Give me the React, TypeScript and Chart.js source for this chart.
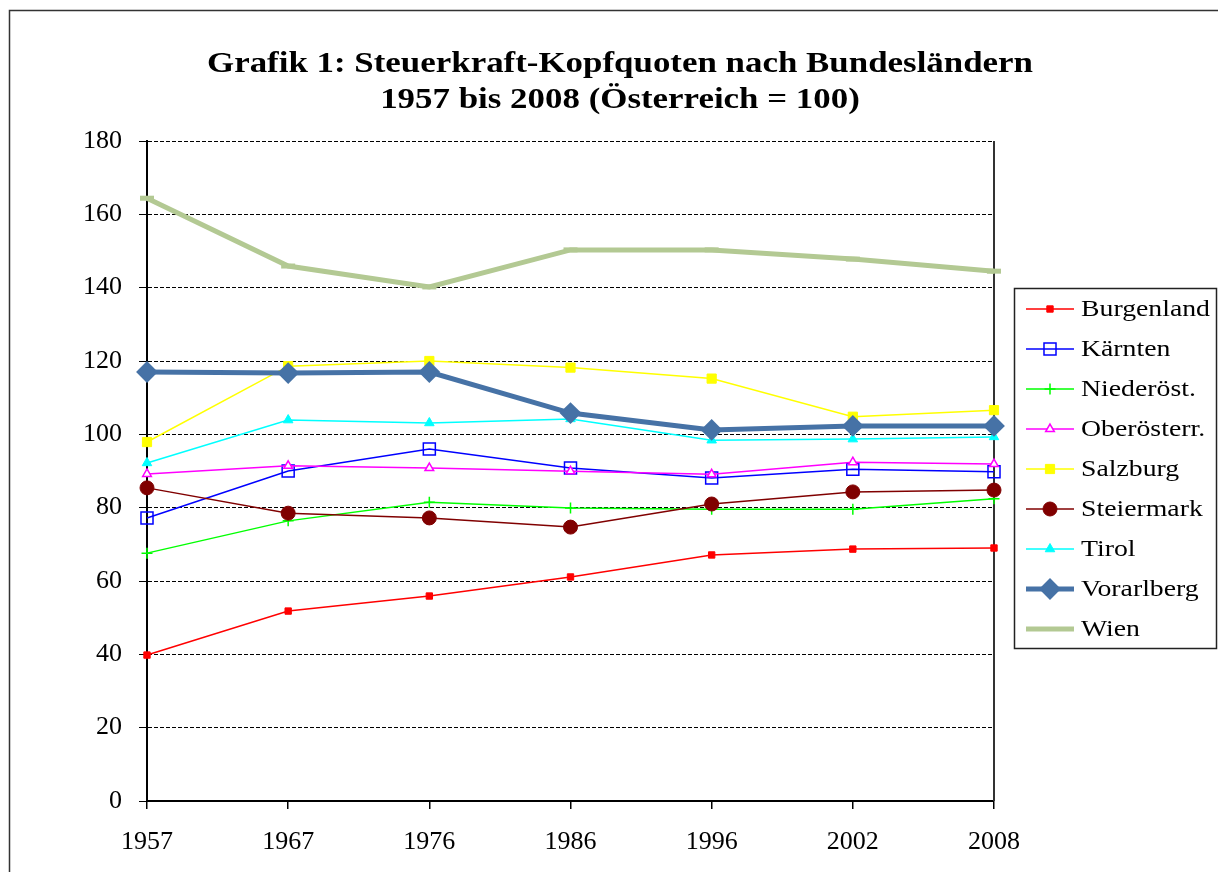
import React, { useEffect, useRef } from 'react';
import { Chart, registerables } from 'chart.js';
import { drawPoint } from 'chart.js/helpers';

Chart.register(...registerables);

// ---- data ----
const years = ['1957', '1967', '1976', '1986', '1996', '2002', '2008'];
const burgenland = [39.8, 51.8, 55.9, 61.1, 67.1, 68.7, 69.0];
const kaernten = [77.2, 90.0, 96.0, 90.8, 88.1, 90.5, 89.8];
const niederoest = [67.6, 76.4, 81.5, 79.9, 79.6, 79.6, 82.4];
const oberoest = [89.2, 91.4, 90.8, 89.9, 89.1, 92.4, 91.9];
const salzburg = [97.9, 118.6, 120.0, 118.2, 115.2, 104.8, 106.6];
const steiermark = [85.4, 78.5, 77.2, 74.7, 81.0, 84.3, 84.8];
const tirol = [92.2, 103.9, 103.1, 104.2, 98.4, 98.7, 99.3];
const vorarlberg = [117.0, 116.7, 117.0, 105.8, 101.2, 102.3, 102.3];
const wien = [164.4, 145.9, 140.2, 150.3, 150.3, 147.8, 144.5];

const seriesNames = ['Burgenland', 'Kärnten', 'Niederöst.', 'Oberösterr.', 'Salzburg', 'Steiermark', 'Tirol', 'Vorarlberg', 'Wien'];
const seriesValues = [burgenland, kaernten, niederoest, oberoest, salzburg, steiermark, tirol, vorarlberg, wien];

const yMin = 0;
const yMax = 180;
const yStep = 20;

const titleLines = ['Grafik 1: Steuerkraft-Kopfquoten nach Bundesländern', '1957 bis 2008 (Österreich = 100)'];

// ---- styles ----
const styles = [
  { color: '#FF0000', bg: '#FF0000', width: 1.5, point: 'rect', radius: 4.5, pbw: 1 },
  { color: '#0000FF', bg: 'rgba(0,0,0,0)', width: 1.5, point: 'rect', radius: 8.5, pbw: 1.5 },
  { color: '#00FF00', bg: '#00FF00', width: 1.5, point: 'cross', radius: 5.5, pbw: 1.5 },
  { color: '#FF00FF', bg: '#FFFFFF', width: 1.5, point: 'triangle', radius: 5, pbw: 1.5 },
  { color: '#FFFF00', bg: '#FFFF00', width: 1.5, point: 'rect', radius: 6.5, pbw: 1 },
  { color: '#800000', bg: '#800000', width: 1.5, point: 'circle', radius: 7, pbw: 1 },
  { color: '#00FFFF', bg: '#00FFFF', width: 1.5, point: 'triangle', radius: 5.5, pbw: 1 },
  { color: '#4672A6', bg: '#4672A6', width: 5, point: 'rectRot', radius: 9.5, pbw: 2 },
  { color: '#B3C993', bg: '#B3C993', width: 5, point: 'line', radius: 7, pbw: 5 },
];

const FONT = "'Liberation Serif', 'Times New Roman', serif";

const decorPlugin = {
  id: 'decor',
  beforeDatasetsDraw(chart: any) {
    const { ctx, chartArea } = chart;
    ctx.save();
    ctx.strokeStyle = '#333333';
    ctx.lineWidth = 2;
    ctx.beginPath();
    ctx.moveTo(chartArea.right, chartArea.top);
    ctx.lineTo(chartArea.right, chartArea.bottom);
    ctx.stroke();
    ctx.restore();
  },
  afterDraw(chart: any) {
    const { ctx } = chart;
    ctx.save();
    // outer frame
    ctx.strokeStyle = '#333333';
    ctx.lineWidth = 1.5;
    ctx.strokeRect(9.5, 10.5, 1400, 1000);

    // title
    ctx.fillStyle = '#000';
    ctx.textAlign = 'center';
    ctx.textBaseline = 'alphabetic';
    ctx.font = `bold 29px ${FONT}`;
    const w1 = ctx.measureText(titleLines[0]).width;
    const sx = 826 / w1;
    const centers = [72, 108];
    titleLines.forEach((t, i) => {
      ctx.save();
      ctx.translate(620, centers[i]);
      ctx.scale(sx, 1);
      ctx.fillText(t, 0, 0);
      ctx.restore();
    });

    // legend
    const lx = 1014.5, ly = 288.5, lw = 202, lh = 360;
    ctx.strokeStyle = '#222';
    ctx.lineWidth = 1.5;
    ctx.strokeRect(lx, ly, lw, lh);
    ctx.font = `23px ${FONT}`;
    const lsx = 129 / ctx.measureText('Burgenland').width;
    seriesNames.forEach((name, i) => {
      const st = styles[i];
      const y = 309 + i * 40;
      ctx.strokeStyle = st.color;
      ctx.lineWidth = st.width;
      ctx.beginPath();
      ctx.moveTo(1026, y);
      ctx.lineTo(1074, y);
      ctx.stroke();
      if (st.point !== 'line') {
        ctx.fillStyle = st.bg;
        ctx.strokeStyle = st.color;
        ctx.lineWidth = st.pbw;
        drawPoint(ctx, { pointStyle: st.point, radius: st.radius, borderWidth: st.pbw, rotation: 0 } as any, 1050, y);
      }
      ctx.fillStyle = '#000';
      ctx.textAlign = 'left';
      ctx.textBaseline = 'middle';
      ctx.save();
      ctx.translate(1081, y + 1);
      ctx.scale(lsx, 1);
      ctx.fillText(name, 0, 0);
      ctx.restore();
    });
    ctx.restore();
  },
};

export default function App() {
  const ref = useRef<HTMLCanvasElement | null>(null);
  useEffect(() => {
    document.body.style.margin = '0';
    Chart.defaults.font.family = FONT;
    Chart.defaults.color = '#000';
    const datasets = seriesNames.map((name, i) => {
      const st = styles[i];
      return {
        label: name,
        data: seriesValues[i],
        borderColor: st.color,
        backgroundColor: st.bg,
        borderWidth: st.width,
        pointStyle: st.point,
        pointRadius: st.radius,
        pointHoverRadius: st.radius,
        pointBorderWidth: st.pbw,
        pointBorderColor: st.color,
        pointBackgroundColor: st.bg,
        tension: 0,
        fill: false,
        clip: false as any,
        order: -i,
      };
    });
    const chart = new Chart(ref.current as HTMLCanvasElement, {
      type: 'line',
      data: { labels: years, datasets: datasets as any },
      plugins: [decorPlugin],
      options: {
        animation: false,
        responsive: false,
        devicePixelRatio: 1,
        layout: { padding: { left: 0, top: 141, right: 224, bottom: 0 } },
        plugins: {
          legend: { display: false },
          title: { display: false },
          tooltip: { enabled: false },
        },
        scales: {
          x: {
            type: 'category',
            offset: false,
            afterFit: (scale: any) => { scale.height = 71; },
            grid: { drawOnChartArea: false, drawTicks: true, tickLength: 8, color: '#000', lineWidth: 1.5 },
            border: { display: true, color: '#000', width: 2 },
            ticks: { font: { size: 26, family: FONT }, color: '#000', padding: 18, maxRotation: 0, autoSkip: false },
          },
          y: {
            min: yMin,
            max: yMax,
            afterFit: (scale: any) => { scale.width = 147; },
            grid: {
              drawOnChartArea: true,
              drawTicks: true,
              tickLength: 8,
              color: '#000',
              lineWidth: 1,
              tickColor: '#000',
              tickBorderDash: [],
            } as any,
            border: { display: true, color: '#000', width: 2, dash: [4, 2] } as any,
            ticks: { stepSize: yStep, font: { size: 26, family: FONT }, color: '#000', padding: 17 },
          },
        },
      },
    });
    return () => chart.destroy();
  }, []);
  return (
    <div style={{ width: 1218, height: 872 }}>
      <canvas ref={ref} width={1218} height={872} style={{ display: 'block', width: 1218, height: 872 }} />
    </div>
  );
}
